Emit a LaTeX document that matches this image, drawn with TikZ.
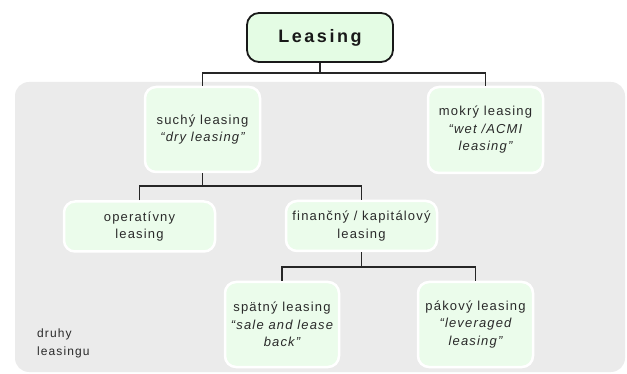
\documentclass[tikz,border=0pt]{standalone}
\usepackage{fontspec}
\setmainfont{Liberation Sans}
\newfontfamily\spacedfont[LetterSpace=9]{Liberation Sans}
\newfontfamily\titlefont[LetterSpace=14]{Liberation Sans}
\definecolor{bggrey}{HTML}{EBEBEB}
\definecolor{nodegreen}{HTML}{EBFCEB}
\definecolor{topgreen}{HTML}{E4FCE4}
\definecolor{txt}{HTML}{2A2A2A}
\begin{document}
\begin{tikzpicture}[x=1pt,y=-1pt,
  leaf/.style={draw=white,line width=2.5pt,fill=nodegreen,rounded corners=11pt,
    text=txt,align=center,inner sep=2pt,font=\spacedfont\fontsize{13}{17.5}\selectfont},
  link/.style={draw=black!85,line width=1.3pt}]
\useasboundingbox (0,0) rectangle (627,374);
\fill[bggrey,rounded corners=14pt] (15,82) rectangle (625,372);
\node[draw=black!90,line width=1.8pt,fill=topgreen,rounded corners=12pt,
  minimum width=146pt,minimum height=49pt,font=\titlefont\bfseries\fontsize{18}{20}\selectfont,text=black!90]
  (root) at (320,37.5) {Leasing};
\node[leaf,minimum width=115pt,minimum height=85pt] (dry) at (202.5,129.5) {suchý leasing\\\itshape “dry leasing”};
\node[leaf,minimum width=115pt,minimum height=86pt] (wet) at (485.5,130) {mokrý leasing\\\itshape “wet /ACMI\\\itshape leasing”};
\node[leaf,minimum width=151pt,minimum height=50pt] (oper) at (139.5,226.5) {operatívny\\leasing};
\node[leaf,minimum width=151pt,minimum height=50pt] (fin) at (361.5,226) {finančný / kapitálový\\leasing};
\node[leaf,minimum width=114pt,minimum height=85pt] (spat) at (282,324.5) {spätný leasing\\\itshape “sale and lease\\\itshape back”};
\node[leaf,minimum width=115pt,minimum height=85pt] (pak) at (475.5,324.5) {pákový leasing\\\itshape “leveraged\\\itshape leasing”};
\node[anchor=north west,align=left,text=txt,font=\spacedfont\fontsize{12}{18}\selectfont,inner sep=0pt] (lab) at (37,329) {druhy\\leasingu};
\coordinate (j1) at (root.south |- 0,73);
\coordinate (j2) at (dry.south |- 0,186);
\coordinate (j3) at (fin.south |- 0,267);
\draw[link] (root.south) -- (j1);
\draw[link] (dry.north) |- (j1) -| (wet.north);
\draw[link] (dry.south) -- (j2);
\draw[link] (oper.north) |- (j2) -| (fin.north);
\draw[link] (fin.south) -- (j3);
\draw[link] (spat.north) |- (j3) -| (pak.north);
\end{tikzpicture}
\end{document}
